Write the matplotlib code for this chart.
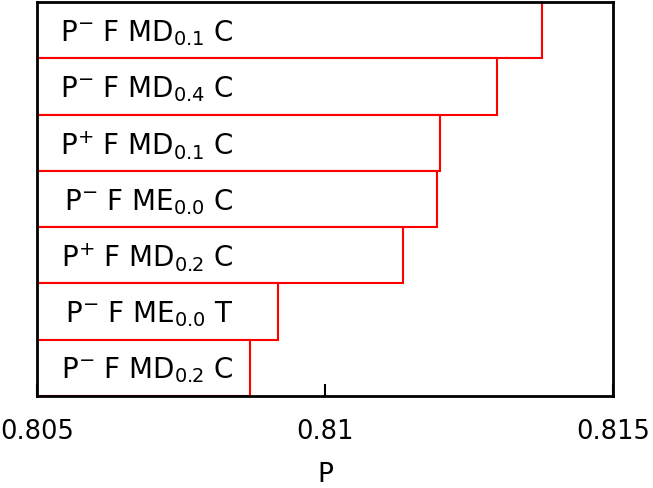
import matplotlib
matplotlib.use("Agg")
import matplotlib.pyplot as plt

labels = [r"P$^{-}$ F MD$_{0.1}$ C",
          r"P$^{-}$ F MD$_{0.4}$ C",
          r"P$^{+}$ F MD$_{0.1}$ C",
          r"P$^{-}$ F ME$_{0.0}$ C",
          r"P$^{+}$ F MD$_{0.2}$ C",
          r"P$^{-}$ F ME$_{0.0}$ T",
          r"P$^{-}$ F MD$_{0.2}$ C"]
values = [0.81376, 0.81298, 0.81199, 0.81194, 0.81136, 0.80918, 0.80870]
base = 0.805
xticks = [0.805, 0.81, 0.815]
xticklabels = ["0.805", "0.81", "0.815"]

fig = plt.figure(figsize=(6.53, 4.89), dpi=100)
L, R = 37, 613
ax = fig.add_axes([L/653, 1-397/489, (R-L)/653, (397-3)/489])

ypos = list(range(len(values)))
widths = [v - base for v in values]
ax.barh(ypos, widths, left=base, height=1.0, color="white",
        edgecolor="red", linewidth=1.5, zorder=2)
for y, lab in zip(ypos, labels):
    ax.text((234-L)/(R-L), y + 0.03, lab, transform=ax.get_yaxis_transform(), ha="right",
            va="center", fontsize=20, color="black", zorder=3)

ax.set_xlim(0.805, 0.815)
ax.set_ylim(len(values) - 0.5, -0.5)
ax.set_yticks([])
ax.set_xticks(xticks)
ax.set_xticklabels(xticklabels, fontsize=18.5)
ax.tick_params(axis="x", direction="in", length=9, width=1.5, pad=16, top=False)
ax.set_xlabel("P", fontsize=19, labelpad=12)
for s in ax.spines.values():
    s.set_linewidth(2)
    s.set_color("black")
    s.set_zorder(4)

fig.savefig("out.png", dpi=100)
